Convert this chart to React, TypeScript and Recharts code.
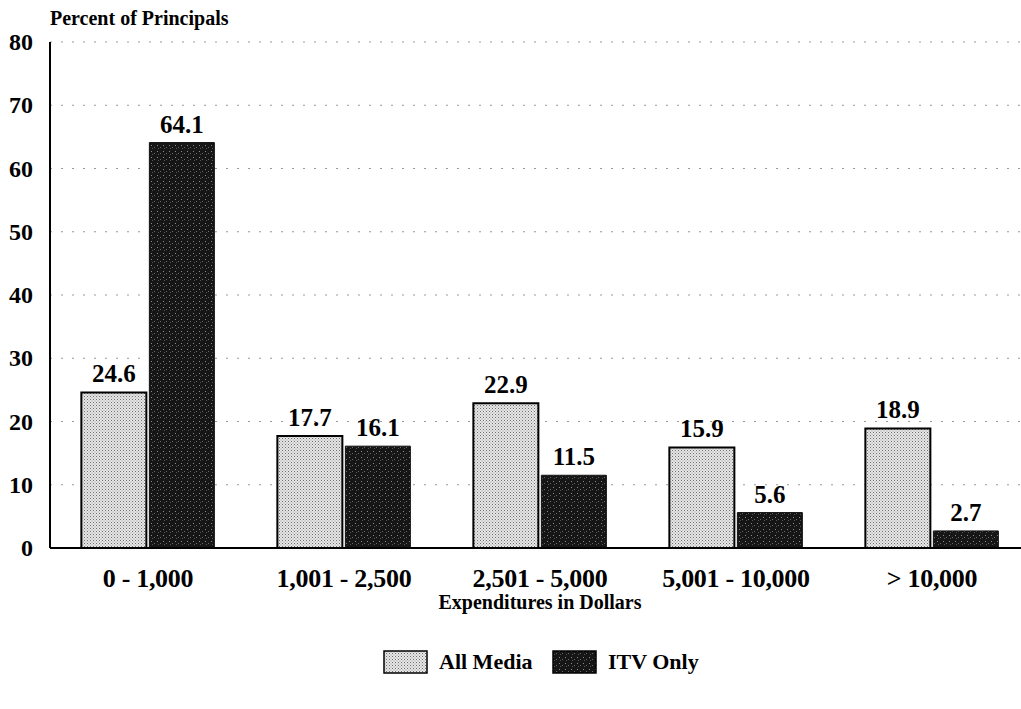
import React from "react";
import {
  BarChart,
  Bar,
  XAxis,
  YAxis,
  CartesianGrid,
  LabelList,
  Label,
} from "recharts";

const categories = ["0 - 1,000", "1,001 - 2,500", "2,501 - 5,000", "5,001 - 10,000", "> 10,000"];
const allMedia = [24.6, 17.7, 22.9, 15.9, 18.9];
const itvOnly = [64.1, 16.1, 11.5, 5.6, 2.7];
const yTicks = [0, 10, 20, 30, 40, 50, 60, 70, 80];

const data = categories.map((range, i) => ({
  range,
  allMedia: allMedia[i],
  itvOnly: itvOnly[i],
}));

const serif = "'Liberation Serif', 'Times New Roman', serif";

function YTick({ x, y, payload }: any) {
  return (
    <text x={x - 9} y={y} dy={8} textAnchor="end" fontFamily={serif} fontWeight="bold" fontSize={24} fill="#000">
      {payload.value}
    </text>
  );
}

function XTick({ x, y, payload }: any) {
  return (
    <text x={x} y={y} dy={31} textAnchor="middle" fontFamily={serif} fontWeight="bold" fontSize={26} letterSpacing={-0.3} fill="#000">
      {payload.value}
    </text>
  );
}

const legendItems = [
  { name: "All Media", fill: "url(#lightDots)", left: 383 },
  { name: "ITV Only", fill: "url(#darkDots)", left: 552 },
];

export default function App() {
  return (
    <div style={{ position: "absolute", left: 0, top: 0, width: 1021, height: 709, overflow: "hidden", background: "#fff" }}>
      <svg width={0} height={0} style={{ position: "absolute" }}>
        <defs>
          <pattern id="lightDots" width="3" height="3" patternUnits="userSpaceOnUse">
            <rect width="3" height="3" fill="#e6e6e6" />
            <rect x="0" y="0" width="1" height="1" fill="#6f6f6f" />
            <rect x="1.5" y="1.5" width="1" height="1" fill="#999" />
          </pattern>
          <pattern id="darkDots" width="6" height="6" patternUnits="userSpaceOnUse">
            <rect width="6" height="6" fill="#161616" />
            <rect x="1" y="1" width="1" height="1" fill="#8a8a8a" />
            <rect x="4" y="3" width="1" height="1" fill="#6a6a6a" />
            <rect x="2" y="4" width="1" height="1" fill="#555" />
          </pattern>
        </defs>
      </svg>
      <div
        style={{
          position: "absolute",
          left: 50,
          top: 7,
          fontFamily: serif,
          fontWeight: "bold",
          fontSize: 20,
          color: "#000",
        }}
      >
        Percent of Principals
      </div>
      <BarChart
        width={1040}
        height={709}
        data={data}
        margin={{ top: 42, right: 10, bottom: 0, left: 0 }}
        barCategoryGap="16%"
        barGap={3}
      >
        <CartesianGrid vertical={false} stroke="#999" strokeDasharray="2 9" />
        <YAxis
          domain={[0, 80]}
          ticks={yTicks}
          width={50}
          tickLine={false}
          axisLine={{ stroke: "#000", strokeWidth: 2 }}
          tick={<YTick />}
          interval={0}
        />
        <XAxis
          dataKey="range"
          height={161}
          tickLine={false}
          axisLine={{ stroke: "#000", strokeWidth: 2 }}
          tick={<XTick />}
          interval={0}
        >
          <Label
            value="Expenditures in Dollars"
            position="insideTop"
            offset={47}
            style={{ fontFamily: serif, fontWeight: "bold", fontSize: 20, fill: "#000" }}
          />
        </XAxis>
        <Bar dataKey="allMedia" name="All Media" fill="url(#lightDots)" stroke="#000" strokeWidth={2} isAnimationActive={false}>
          <LabelList
            dataKey="allMedia"
            position="top"
            offset={10}
            formatter={(v: any) => Number(v).toFixed(1)}
            style={{ fontFamily: serif, fontWeight: "bold", fontSize: 25, fill: "#000" }}
          />
        </Bar>
        <Bar dataKey="itvOnly" name="ITV Only" fill="url(#darkDots)" stroke="#111" strokeWidth={1} isAnimationActive={false}>
          <LabelList
            dataKey="itvOnly"
            position="top"
            offset={10}
            formatter={(v: any) => Number(v).toFixed(1)}
            style={{ fontFamily: serif, fontWeight: "bold", fontSize: 25, fill: "#000" }}
          />
        </Bar>
      </BarChart>
      {legendItems.map((it) => (
        <div
          key={it.name}
          style={{
            position: "absolute",
            left: it.left,
            top: 649,
            display: "flex",
            alignItems: "center",
            gap: 11,
            fontFamily: serif,
            fontWeight: "bold",
            fontSize: 22,
            color: "#000",
          }}
        >
          <svg width={45} height={24}>
            <rect x={1} y={1} width={43} height={22} fill={it.fill} stroke="#000" strokeWidth={1.5} />
          </svg>
          <span>{it.name}</span>
        </div>
      ))}
    </div>
  );
}
